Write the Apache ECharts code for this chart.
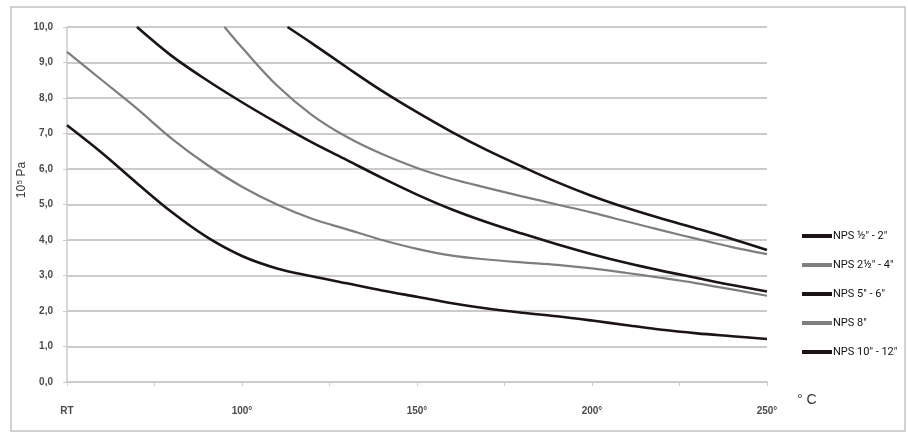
<!DOCTYPE html>
<html>
<head>
<meta charset="utf-8">
<script src="https://cdn.jsdelivr.net/npm/echarts@6/dist/echarts.min.js"></script>
<style>
html,body{margin:0;padding:0;background:#fff;}
#c{width:908px;height:434px;}
</style>
</head>
<body>
<div id="c"></div>
<script>
// Temperature ticks (RT shown at 50 position)
const xTicks = [50, 100, 150, 200, 250];
const xTickLabels = ['RT', '100°', '150°', '200°', '250°'];
const seriesNames = ['NPS ½" - 2"', 'NPS 2½" - 4"', 'NPS 5" - 6"', 'NPS 8"', 'NPS 10" - 12"'];

const x1 = [113, 120, 130, 140, 150, 160, 170, 180, 190, 200, 210, 220, 230, 240, 250];
const y1 = [10.0, 9.54, 8.86, 8.2, 7.6, 7.04, 6.53, 6.07, 5.63, 5.24, 4.9, 4.6, 4.32, 4.03, 3.72];

const x2 = [95, 100, 110, 120, 130, 140, 150, 160, 170, 180, 190, 200, 210, 220, 230, 240, 250];
const y2 = [10.0, 9.42, 8.35, 7.52, 6.9, 6.42, 6.03, 5.72, 5.47, 5.23, 5.0, 4.77, 4.52, 4.27, 4.03, 3.8, 3.6];

const x3 = [70, 80, 90, 100, 110, 120, 130, 140, 150, 160, 170, 180, 190, 200, 210, 220, 230, 240, 250];
const y3 = [10.0, 9.18, 8.5, 7.88, 7.3, 6.75, 6.25, 5.75, 5.28, 4.86, 4.5, 4.18, 3.88, 3.6, 3.35, 3.13, 2.93, 2.73, 2.55];

const x4 = [50, 60, 70, 80, 90, 100, 110, 120, 130, 140, 150, 160, 170, 180, 190, 200, 210, 220, 230, 240, 250];
const y4 = [9.3, 8.5, 7.7, 6.85, 6.12, 5.5, 5.0, 4.6, 4.3, 4.0, 3.75, 3.56, 3.45, 3.37, 3.3, 3.2, 3.07, 2.93, 2.78, 2.61, 2.43];

const x5 = [50, 60, 70, 80, 90, 100, 110, 120, 130, 140, 150, 160, 170, 180, 190, 200, 210, 220, 230, 240, 250];
const y5 = [7.23, 6.45, 5.6, 4.78, 4.08, 3.55, 3.2, 2.98, 2.78, 2.58, 2.4, 2.22, 2.07, 1.95, 1.85, 1.73, 1.6, 1.47, 1.37, 1.29, 1.21];

const yMin = 0, yMax = 10, yStep = 1;

const BLACK = '#1c1414', GREY = '#7e7e7e';
const colors = [BLACK, GREY, BLACK, GREY, BLACK];
const xs = [x1, x2, x3, x4, x5];
const ys = [y1, y2, y3, y4, y5];

const chart = echarts.init(document.getElementById('c'));
const gridCol = '#cbcbcb';
chart.setOption({
  backgroundColor: '#fff',
  animation: false,
  grid: { left: 67, right: 141, top: 27, bottom: 52 },
  xAxis: {
    type: 'value', min: 50, max: 250, interval: 25,
    axisLine: { show: true, lineStyle: { color: gridCol, width: 2 } },
    axisTick: { show: true, length: 4, lineStyle: { color: gridCol } },
    splitLine: { show: false },
    axisLabel: {
      margin: 24, fontSize: 10, fontWeight: 'bold', color: '#4a4a4a', fontFamily: 'Liberation Sans',
      formatter: v => { const i = xTicks.indexOf(v); return i >= 0 ? xTickLabels[i] : ''; }
    }
  },
  yAxis: {
    type: 'value', min: yMin, max: yMax, interval: yStep,
    axisLine: { show: true, lineStyle: { color: gridCol, width: 1.5 } },
    axisTick: { show: true, length: 4, lineStyle: { color: gridCol } },
    splitLine: { show: true, lineStyle: { color: gridCol, width: 2 } },
    axisLabel: {
      margin: 14, fontSize: 10, fontWeight: 'bold', color: '#4a4a4a', fontFamily: 'Liberation Sans',
      formatter: v => v.toFixed(1).replace('.', ',')
    }
  },
  legend: {
    orient: 'vertical', left: 797, top: 224,
    icon: 'rect', itemWidth: 30, itemHeight: 4, itemGap: 15,
    textStyle: { fontSize: 11, color: '#111', fontFamily: 'Roboto', padding: [0, 0, 0, -4], lineHeight: 14 },
    data: seriesNames
  },
  series: seriesNames.map((n, i) => ({
    name: n, type: 'line', smooth: 0.35, showSymbol: false, symbol: 'none',
    color: colors[i],
    lineStyle: { color: colors[i], width: colors[i] === BLACK ? 2.6 : 2.2 },
    data: xs[i].map((x, j) => [x, ys[i][j]])
  })),
  graphic: [
    { type: 'rect', shape: { x: 11, y: 7, width: 894, height: 424 }, style: { fill: 'none', stroke: '#c4c4c4', lineWidth: 1.5 }, silent: true },
    { type: 'text', x: 22, y: 180, rotation: Math.PI / 2,
      style: { text: '10⁵ Pa', fontSize: 12, fill: '#333', fontFamily: 'Liberation Sans', align: 'center', verticalAlign: 'middle' } },
    { type: 'text', x: 797, y: 400,
      style: { text: '° C', fontSize: 14, fill: '#333', fontFamily: 'Liberation Sans', align: 'left', verticalAlign: 'middle' } }
  ]
});
</script>
</body>
</html>
